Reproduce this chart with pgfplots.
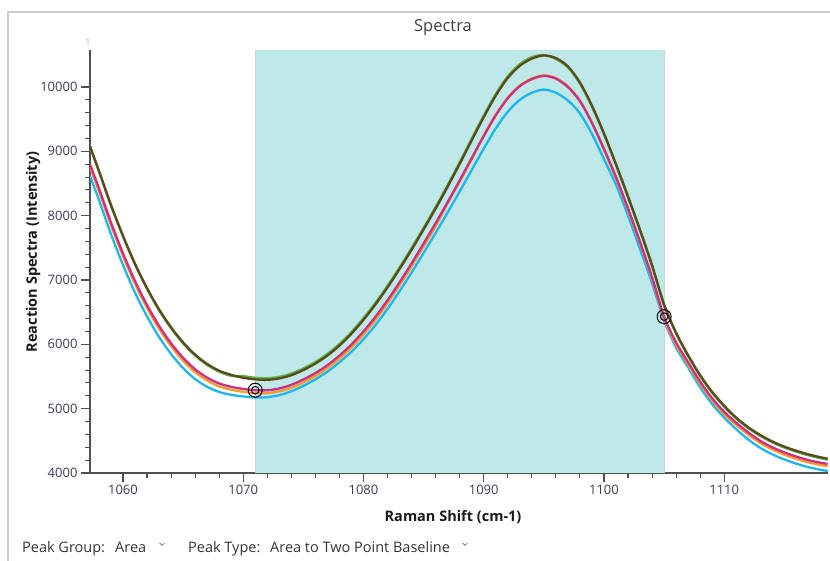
\documentclass[border=0pt]{standalone}
\usepackage{fontspec}
\setmainfont{Open Sans}
\usepackage{pgfplots}
\usepackage{pgfplotstable}
\pgfplotsset{compat=1.18}
\definecolor{brownc}{HTML}{5A4A1C}
\definecolor{greenc}{HTML}{5DB04A}
\definecolor{magc}{HTML}{CC2E84}
\definecolor{orac}{HTML}{F59A2C}
\definecolor{bluec}{HTML}{1FB5EE}
\definecolor{shade}{HTML}{BFE8E8}
\definecolor{framec}{HTML}{CCCCCC}
\definecolor{tickc}{HTML}{3C3C5A}
\definecolor{axc}{HTML}{505050}
\pgfplotstableread{
x B G M O C
1057.26 9080 9065 8800 8755 8620
1058 8700 8685 8427 8382 8245
1059 8170 8155 7897 7852 7715
1060 7690 7675 7417 7372 7235
1061 7255 7240 6985 6940 6805
1062 6875 6860 6611 6566 6435
1063 6545 6530 6287 6242 6115
1064 6265 6250 6016 5971 5850
1065 6030 6015 5790 5745 5630
1066 5840 5825 5612 5567 5460
1067 5695 5680 5482 5437 5340
1068 5590 5575 5392 5347 5260
1069 5525 5510 5339 5294 5215
1070 5480 5505 5306 5261 5190
1071 5455 5480 5287 5242 5175
1072 5448 5473 5286 5241 5178
1073 5470 5495 5314 5269 5210
1074 5520 5545 5370 5325 5270
1075 5600 5625 5453 5408 5355
1076 5700 5725 5553 5508 5455
1077 5825 5850 5675 5630 5575
1078 5980 6005 5824 5779 5720
1079 6165 6190 5997 5952 5885
1080 6380 6405 6200 6155 6080
1081 6620 6645 6428 6383 6300
1082 6885 6910 6684 6639 6550
1083 7170 7195 6963 6918 6825
1084 7470 7495 7257 7212 7115
1085 7785 7810 7566 7521 7420
1086 8110 8135 7882 7837 7730
1087 8450 8475 8210 8190 8050
1088 8805 8830 8547 8527 8375
1089 9170 9195 8894 8874 8710
1090 9530 9555 9236 9246 9040
1091 9865 9890 9559 9569 9355
1092 10140 10165 9825 9835 9615
1093 10330 10355 10012 10022 9800
1094 10440 10465 10122 10132 9910
1095 10490 10495 10172 10182 9960
1096 10450 10435 10130 10140 9910
1097 10320 10305 10000 10010 9790
1098 10070 10055 9780 9790 9590
1099 9710 9695 9440 9450 9270
1100 9280 9265 9040 9020 8880
1101 8800 8785 8600 8580 8480
1102 8300 8285 8110 8090 8000
1103 7780 7765 7590 7570 7480
1104 7230 7215 7040 7020 6950
1105 6620 6605 6430 6400 6370
1106 6180 6165 6030 5995 5950
1107 5830 5815 5720 5685 5640
1108 5520 5505 5420 5385 5330
1109 5260 5245 5160 5125 5070
1110 5045 5030 4950 4915 4860
1111 4860 4845 4780 4745 4680
1112 4710 4695 4630 4595 4520
1113 4590 4575 4500 4465 4390
1114 4490 4475 4400 4365 4290
1115 4410 4395 4320 4285 4210
1116 4345 4330 4255 4220 4145
1117 4290 4275 4200 4165 4090
1118 4245 4230 4160 4125 4050
1118.6 4222 4207 4140 4105 4030
}\spectra
\begin{document}
\begin{tikzpicture}[x=1pt,y=1pt]
\path[use as bounding box] (0,0) rectangle (830,561);
\draw[color=framec, line width=1.2pt] (8,0) -- (8,549) -- (830,549);
\node[font=\fontsize{16.5}{19}\selectfont, text=black!75] at (443,533) {Spectra};
\node[font=\fontsize{9}{11}\selectfont, text=tickc!40] at (88,519) {1};
\begin{axis}[
  at={(90pt,88pt)}, anchor=south west,
  scale only axis, width=738pt, height=423pt,
  xmin=1057.26, xmax=1118.63, ymin=4000, ymax=10575,
  axis lines=left, axis line style={-, draw=axc, line width=1.3pt},
  xtick={1060,1070,...,1110}, ytick={4000,5000,...,10000},
  minor x tick num=4, minor y tick num=4,
  scaled y ticks=false, scaled x ticks=false,
  tick align=outside, major tick length=9pt, minor tick length=5pt,
  tick style={draw=axc, line width=1.1pt},
  ticklabel style={font=\fontsize{13}{15}\selectfont, text=tickc},
  /pgf/number format/.cd, 1000 sep={}, assume math mode=true, /pgfplots/.cd,
  xlabel={Raman Shift (cm-1)}, ylabel={Reaction Spectra (Intensity)},
  label style={font=\bfseries\fontsize{14.5}{16}\selectfont, text=black!90},
  xlabel style={at={(axis description cs:0.4919,-0.104)}, anchor=center},
  ylabel style={at={(axis description cs:-0.0772,0.5225)}, anchor=center},
  clip=true,
]
\addplot[fill=shade, draw=none] coordinates {(1071,4000) (1071,10575) (1105,10575) (1105,4000)} \closedcycle;
\addplot[draw=black!18, line width=0.8pt] coordinates {(1071,4000) (1071,10575)};
\addplot[draw=black!18, line width=0.8pt] coordinates {(1105,4000) (1105,10575)};
\addplot[bluec, line width=2.3pt, smooth] table[x=x, y=C] {\spectra};
\addplot[orac, line width=2.3pt, smooth] table[x=x, y=O] {\spectra};
\addplot[magc, line width=2.3pt, smooth] table[x=x, y=M] {\spectra};
\addplot[greenc, line width=2.3pt, smooth] table[x=x, y=G] {\spectra};
\addplot[brownc, line width=2.3pt, smooth] table[x=x, y=B] {\spectra};
\addplot[only marks, mark=o, mark size=7pt, mark options={draw=black, line width=1pt}] coordinates {(1071,5287) (1105,6430)};
\addplot[only marks, mark=o, mark size=3.8pt, mark options={draw=black, line width=1pt}] coordinates {(1071,5287) (1105,6430)};
\end{axis}
\begin{scope}[font=\fontsize{14.5}{16}\selectfont, text=black!80]
\node[anchor=base west, inner sep=0] at (22,8) {Peak Group:};
\node[anchor=base west, inner sep=0] at (115,8) {Area};
\node[anchor=base west, inner sep=0] at (188,8) {Peak Type:};
\node[anchor=base west, inner sep=0] at (270,8) {Area to Two Point Baseline};
\end{scope}
\draw[black!60, line width=0.7pt] (159.5,18) -- (162,15.5) -- (164.5,18);
\draw[black!60, line width=0.7pt] (462.5,18) -- (465,15.5) -- (467.5,18);
\end{tikzpicture}
\end{document}
